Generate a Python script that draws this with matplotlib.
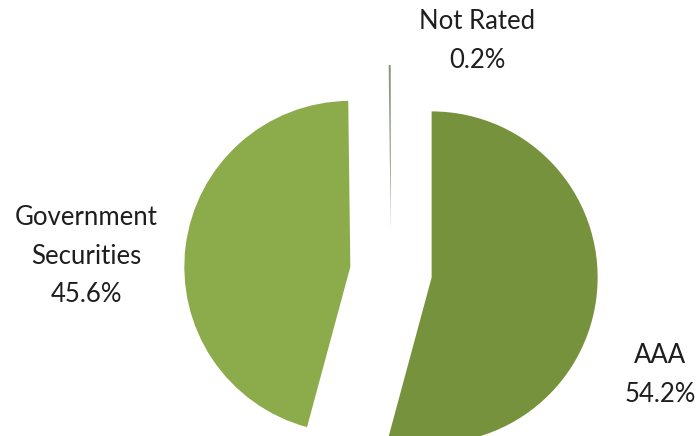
import matplotlib.pyplot as plt

# slice data
labels = ["AAA", "Government\nSecurities", "Not Rated"]
shares = [54.2, 45.6, 0.2]
colors = ["#76923c", "#8cab4b", "#8a9680"]


def main():
    fig = plt.figure(figsize=(6.99, 4.36), dpi=100)
    ax = fig.add_axes([0, 0, 1, 1])

    radius = 166
    ax.pie(shares, colors=colors, radius=radius, center=(391, 164),
           startangle=90, counterclock=False,
           explode=[41, 41, 41], frame=True)
    ax.set_xlim(0, 699)
    ax.set_ylim(0, 436)
    ax.set_aspect("equal")
    ax.axis("off")

    txt = dict(ha="center", va="center", fontsize=18.5, family="Lato",
               color="#1e1e1e", linespacing=1.7)
    pos = [(660, 61), (86, 180), (477, 395)]
    for lab, val, (x, y) in zip(labels, shares, pos):
        ax.text(x, y, f"{lab}\n{val:.1f}%", **txt)

    fig.savefig("out.png", dpi=100)


if __name__ == "__main__":
    main()
